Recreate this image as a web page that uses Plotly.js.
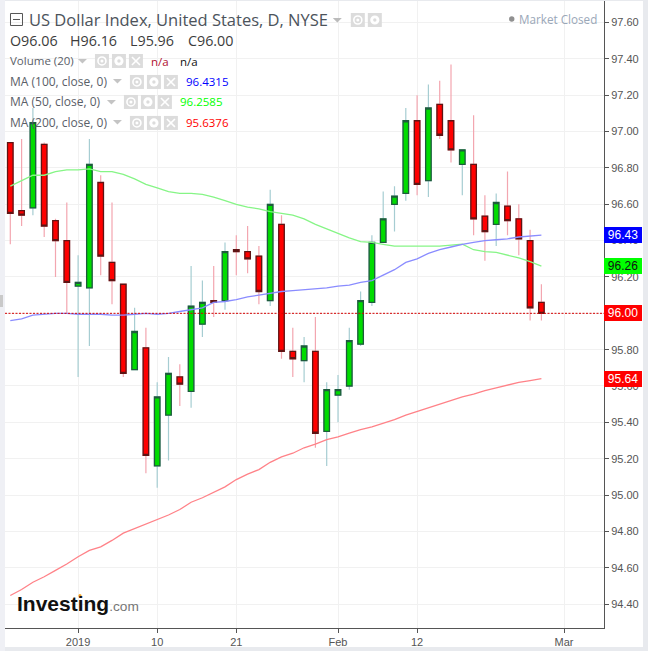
<!DOCTYPE html>
<html>
<head>
<meta charset="utf-8">
<script src="https://cdn.plot.ly/plotly-3.0.1.min.js"></script>
<style>
html,body{margin:0;padding:0;width:648px;height:651px;background:#e8eaee;overflow:hidden}
#strip{position:absolute;left:0;top:0;width:5px;height:651px;background:#eff0f5}
#handle{position:absolute;left:0;top:295px;width:3px;height:12px;background:#c9c9c9}
#chart{position:absolute;left:5px;top:1px;width:638px;height:646px;background:#fff}
</style>
</head>
<body>
<div id="strip"></div><div id="handle"></div>
<div id="chart"></div>
<script>
var opens  = [96.94,96.565,96.58,96.93,96.51,96.40,96.15,96.14,96.72,96.28,96.16,95.69,95.81,95.16,95.44,95.65,95.57,95.94,96.07,96.07,96.35,96.34,96.315,96.07,96.49,95.79,95.74,95.79,95.35,95.55,95.60,95.83,96.06,96.39,96.60,96.66,97.06,96.73,97.15,97.06,96.82,96.82,96.535,96.49,96.59,96.52,96.40,96.06];
var closes = [96.55,96.54,97.05,96.48,96.40,96.17,96.17,96.82,96.315,96.18,95.67,95.90,95.218,95.54,95.67,95.61,96.04,96.06,96.06,96.34,96.34,96.30,96.12,96.60,95.79,95.75,95.82,95.34,95.58,95.58,95.85,96.07,96.39,96.52,96.645,97.06,96.71,97.13,96.98,96.90,96.90,96.52,96.45,96.61,96.51,96.41,96.03,96.00];
var highs  = [96.94,96.96,97.13,96.94,96.52,96.61,96.32,96.96,96.76,96.61,96.16,96.03,95.92,95.62,95.76,95.72,96.26,96.18,96.26,96.39,96.43,96.48,96.37,96.68,96.54,95.92,95.87,95.98,95.62,95.66,95.92,96.12,96.43,96.67,96.70,97.13,97.20,97.26,97.28,97.37,96.90,97.09,96.65,96.66,96.78,96.60,96.46,96.16];
var lows   = [96.38,96.48,96.54,96.42,96.20,96.00,95.65,95.82,96.21,96.05,95.65,95.69,95.12,95.04,95.19,95.49,95.48,95.87,95.98,96.02,96.21,96.22,96.05,96.04,95.75,95.65,95.62,95.26,95.16,95.40,95.58,95.82,96.04,96.39,96.45,96.62,96.65,96.64,96.96,96.83,96.65,96.43,96.29,96.37,96.43,96.32,95.96,95.96];
var ma50   = [96.70,96.73,96.76,96.76,96.78,96.79,96.79,96.795,96.78,96.78,96.765,96.74,96.71,96.69,96.67,96.66,96.66,96.655,96.64,96.62,96.60,96.585,96.575,96.56,96.55,96.54,96.52,96.49,96.465,96.44,96.415,96.395,96.39,96.38,96.37,96.37,96.37,96.37,96.37,96.375,96.38,96.35,96.34,96.335,96.32,96.305,96.285,96.26];
var ma100  = [95.96,95.97,95.99,95.995,96.00,96.00,95.995,95.995,95.995,95.99,95.99,95.995,96.00,95.995,96.00,96.01,96.02,96.03,96.06,96.065,96.075,96.09,96.10,96.11,96.12,96.125,96.13,96.135,96.14,96.15,96.155,96.17,96.18,96.21,96.24,96.28,96.30,96.33,96.35,96.365,96.38,96.39,96.40,96.405,96.41,96.42,96.425,96.43];
var ma200  = [94.447,94.48,94.52,94.55,94.585,94.62,94.66,94.695,94.715,94.75,94.79,94.815,94.84,94.865,94.89,94.92,94.96,94.985,95.015,95.045,95.085,95.115,95.14,95.18,95.21,95.23,95.26,95.28,95.305,95.32,95.34,95.36,95.375,95.395,95.415,95.44,95.46,95.48,95.50,95.52,95.54,95.555,95.575,95.59,95.605,95.62,95.63,95.64];
var tickPositions = [6,13,20,29,36,49];
var tickLabels = ['2019','10','21','Feb','12','Mar'];
var priceFlags = [96.43,96.26,96.00,95.64];
var flagLabels = ['96.43','96.26','96.00','95.64'];

var xs = opens.map(function(_,i){return i;});
var bodyHigh = opens.map(function(o,i){return Math.max(o,closes[i]);});
var bodyLow  = opens.map(function(o,i){return Math.min(o,closes[i]);});

var L=5,R=604.3,T=1,B=628.3;
function px(x){return (x-L)/(R-L);}
function py(y){return 1-(y-T)/(B-T);}
var SANS='"Open Sans",sans-serif', ARIAL='"Liberation Sans",Arial,sans-serif';

var traces=[
 {type:'candlestick',x:xs,open:opens,high:highs,low:lows,close:closes,whiskerwidth:0,
  increasing:{line:{color:'#a6cdd2',width:1.2},fillcolor:'#a6cdd2'},
  decreasing:{line:{color:'#f3a6b0',width:1.2},fillcolor:'#f3a6b0'},hoverinfo:'skip',showlegend:false},
 {type:'candlestick',x:xs,open:opens,high:bodyHigh,low:bodyLow,close:closes,whiskerwidth:0,
  increasing:{line:{color:'#1e5b3c',width:1.3},fillcolor:'#00dc00'},
  decreasing:{line:{color:'#5e1414',width:1.3},fillcolor:'#ff0000'},hoverinfo:'skip',showlegend:false},
 {type:'scatter',mode:'lines',x:xs,y:ma50,line:{color:'#86f586',width:1.3},hoverinfo:'skip',showlegend:false},
 {type:'scatter',mode:'lines',x:xs,y:ma100,line:{color:'#8a8cff',width:1.3},hoverinfo:'skip',showlegend:false},
 {type:'scatter',mode:'lines',x:xs,y:ma200,line:{color:'#ff8288',width:1.3},hoverinfo:'skip',showlegend:false}
];

var shapes=[], anns=[];
function rect(x0,y0,x1,y1,fill,line){shapes.push({type:'rect',xref:'paper',yref:'paper',x0:px(x0),x1:px(x1),y0:py(y0),y1:py(y1),fillcolor:fill,line:{color:line||fill,width:line?1:0},layer:'above'});}
function seg(x0,y0,x1,y1,color,w){shapes.push({type:'line',xref:'paper',yref:'paper',x0:px(x0),x1:px(x1),y0:py(y0),y1:py(y1),line:{color:color,width:w},layer:'above'});}
function circ(cx,cy,r,fill,line,w){shapes.push({type:'circle',xref:'paper',yref:'paper',x0:px(cx-r),x1:px(cx+r),y0:py(cy-r),y1:py(cy+r),fillcolor:fill,line:{color:line||fill,width:w||0},layer:'above'});}
function tri(x,y,color){shapes.push({type:'path',xref:'paper',yref:'paper',path:'M '+px(x)+' '+py(y)+' L '+px(x+9)+' '+py(y)+' L '+px(x+4.5)+' '+py(y+4.5)+' Z',fillcolor:color,line:{width:0},layer:'above'});}
function eye(x,y){rect(x,y,x+14,y+14,'#dcdcdc');circ(x+7,y+7,4,'rgba(0,0,0,0)','#fff',1.6);circ(x+7,y+7,1.5,'#fff');}
function gear(x,y){rect(x,y,x+14,y+14,'#dcdcdc');circ(x+7,y+7,4.6,'#fff');circ(x+7,y+7,1.7,'#dcdcdc');}
function cross(x,y){rect(x,y,x+14,y+14,'#dcdcdc');seg(x+3,y+3,x+11,y+11,'#fff',1.6);seg(x+11,y+3,x+3,y+11,'#fff',1.6);}
function text(t,x,y,size,color,font,anchor){anns.push({text:t,xref:'paper',yref:'paper',x:px(x),y:py(y),xanchor:anchor||'left',yanchor:'middle',showarrow:false,font:{size:size,color:color,family:font||SANS},borderpad:0,borderwidth:0});}

// dotted last-price line
shapes.push({type:'line',xref:'paper',yref:'y',x0:0,x1:1,y0:priceFlags[2],y1:priceFlags[2],line:{color:'#d40000',width:1,dash:'2px,1.5px'},layer:'above'});

// header
rect(10.5,13.5,22.5,25.5,'rgba(0,0,0,0)','#555');
seg(13,19.5,20,19.5,'#555',1);
text('US Dollar Index, United States, D, NYSE',29,19.5,16.5,'#4c535b');
tri(333,18,'#bbbbbb');
eye(351,13);gear(368,13);
text('O96.06',10,41,14.3,'#3c3c3c');
text('H96.16',70,41,14.3,'#3c3c3c');
text('L95.96',130,41,14.3,'#3c3c3c');
text('C96.00',188,41,14.3,'#3c3c3c');

text('Volume (20)',10,61,11.5,'#5a6068');
tri(78,59,'#c4c4c4');eye(95,54);gear(112,54);cross(129,54);
text('n/a',151,62,11.5,'#b01030');text('n/a',180,62,11.5,'#111');

text('MA (100, close, 0)',10,81.5,12,'#5a6068');
tri(113,79,'#c4c4c4');eye(130,75);gear(147,75);cross(164,75);
text('96.4315',186,82,11.5,'#0000ff');

text('MA (50, close, 0)',10,102,12,'#5a6068');
tri(107,100,'#c4c4c4');eye(124,95);gear(141,95);cross(158,95);
text('96.2585',180,102,11.5,'#00ff00');

text('MA (200, close, 0)',10,122.5,12,'#5a6068');
tri(113,120,'#c4c4c4');eye(130,116);gear(147,116);cross(164,116);
text('95.6376',186,123,11.5,'#ff0000');

circ(512,19,2.7,'#909090');
text('Market Closed',519,19,11.7,'#9aa7b8');

// logo
text('<b>Investing</b><span style="font-size:13.7px;color:#777">.com</span>',17,604,21,'#111',ARIAL);
circ(80,596,1.6,'#f5a623');

// price flags
var flagFills=['#0000ff','#00ff00','#ff0000','#ff0000'], flagText=['#fff','#111','#fff','#fff'];
priceFlags.forEach(function(v,i){
 anns.push({text:flagLabels[i],xref:'paper',yref:'y',x:1,y:v,xanchor:'left',yanchor:'middle',xshift:0,showarrow:false,
  bgcolor:flagFills[i],width:38,height:16,borderpad:0,borderwidth:0,align:'center',
  font:{size:12,color:flagText[i],family:ARIAL}});
});

var layout={
 width:638,height:646,
 margin:{l:0,r:38.7,t:0,b:18.7,pad:0},
 paper_bgcolor:'#ffffff',plot_bgcolor:'#ffffff',
 showlegend:false,boxgap:0.3,dragmode:false,
 xaxis:{type:'linear',range:[-0.469,52.54],tickmode:'array',tickvals:tickPositions,ticktext:tickLabels,
  showgrid:true,gridcolor:'#f1f1f1',gridwidth:1,zeroline:false,ticks:'outside',ticklen:4,tickcolor:'#555',
  showline:true,linecolor:'#555',linewidth:1,tickfont:{family:ARIAL,size:11,color:'#555'},rangeslider:{visible:false},fixedrange:true},
 yaxis:{side:'right',range:[94.268,97.719],tick0:94.4,dtick:0.2,tickformat:'.2f',
  showgrid:true,gridcolor:'#f1f1f1',gridwidth:1,zeroline:false,ticks:'outside',ticklen:4,tickcolor:'#555',
  showline:true,linecolor:'#555',linewidth:1,tickfont:{family:ARIAL,size:11,color:'#555'},fixedrange:true},
 shapes:shapes,annotations:anns
};
Plotly.newPlot('chart',traces,layout,{displayModeBar:false,staticPlot:true});
</script>
</body>
</html>
